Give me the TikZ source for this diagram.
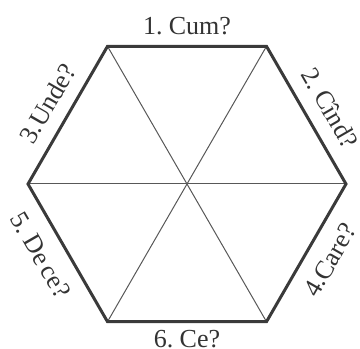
\documentclass[tikz,border=0pt]{standalone}
\usepackage{fontspec}
\setmainfont{Liberation Serif}
\usepackage{xcolor}
\usepackage{tikz}
\usetikzlibrary{calc}

\definecolor{hexgray}{HTML}{3A3A3A}
\definecolor{labgray}{HTML}{333333}

\tikzset{
  rim/.style={line width=1.5pt, draw=hexgray, line join=miter},
  spoke/.style={line width=0.5pt, draw=hexgray!85},
  lab/.style={text=labgray, font=\fontsize{13}{15}\selectfont, inner sep=0pt,
    execute at begin node={\spaceskip=0.16em\relax}},
}

\begin{document}
\begin{tikzpicture}[x=0.5pt,y=0.5pt]
  \useasboundingbox (0,0) rectangle (360,349);
  \def\R{159}

  \coordinate (O) at (187,165);
  \foreach \k in {0,...,5}{
    \coordinate (V\k) at ($(O)+(\k*60:\R)$);
  }

  \draw[spoke] (V0)--(V3);
  \draw[spoke] (V1)--(V4);
  \draw[spoke] (V2)--(V5);
  \draw[rim] (V0)--(V1)--(V2)--(V3)--(V4)--(V5)--cycle;

  \node[lab]            (L1) at ($(O)+(90:158)$)  {1. Cum?};
  \node[lab, rotate=-60] (L2) at ($(O)+(28:162)$)  {2. Cînd?};
  \node[lab, rotate=60]  (L3) at ($(O)+(150:161)$) {3.Unde?};
  \node[lab, rotate=60]  (L4) at ($(O)+(-28:162)$) {4.Care?};
  \node[lab, rotate=-60] (L5) at ($(O)+(206:163)$) {5. De ce?};
  \node[lab]            (L6) at ($(O)+(-90:155)$) {6. Ce?};
\end{tikzpicture}
\end{document}
